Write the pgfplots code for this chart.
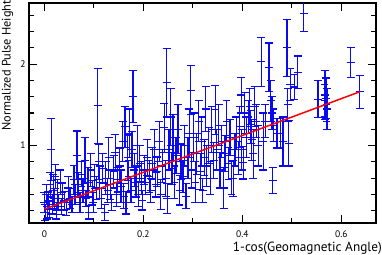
\documentclass[border=0pt]{standalone}
\usepackage{fontspec}
\setmainfont{PT Sans}
\usepackage{pgfplots}
\usepackage{pgfplotstable}
\pgfplotsset{compat=1.18}
\definecolor{barblue}{RGB}{10,10,240}
\pgfplotsset{ebar/.style={color=barblue, line width=1.2pt, unbounded coords=jump, mark=none, forget plot}}
\pgfplotstableread{
x y ey
0.000 0.30 0.12
0.002 0.18 0.10
0.004 0.40 0.12
0.006 0.25 0.15
0.008 0.33 0.10
0.010 0.22 0.10
0.012 0.52 0.15
0.014 0.95 0.38
0.016 0.28 0.12
0.018 0.45 0.20
0.020 0.35 0.12
0.022 0.62 0.15
0.024 0.20 0.10
0.026 0.40 0.18
0.028 0.30 0.10
0.032 0.55 0.15
0.034 0.25 0.10
0.036 0.42 0.12
0.040 0.32 0.12
0.044 0.22 0.08
0.048 0.48 0.14
0.052 0.35 0.12
0.056 0.28 0.10
0.060 0.58 0.18
0.062 0.40 0.12
0.066 0.88 0.30
0.068 0.52 0.15
0.072 0.30 0.12
0.075 0.65 0.15
0.078 0.45 0.15
0.082 0.82 0.28
0.084 0.35 0.10
0.088 0.55 0.18
0.090 0.18 0.08
0.094 0.70 0.20
0.097 0.42 0.15
0.099 0.30 0.12
0.102 0.62 0.15
0.105 0.48 0.14
0.108 1.49 0.46
0.110 0.80 0.22
0.112 0.55 0.20
0.115 0.35 0.12
0.118 0.72 0.18
0.122 0.18 0.10
0.124 0.60 0.20
0.128 0.45 0.15
0.130 0.85 0.25
0.133 0.52 0.18
0.136 0.30 0.10
0.140 0.68 0.20
0.143 0.92 0.22
0.146 0.40 0.15
0.148 0.58 0.15
0.152 0.75 0.22
0.155 0.50 0.20
0.158 1.05 0.25
0.160 0.38 0.15
0.163 1.23 0.25
0.165 0.30 0.14
0.168 0.85 0.28
0.170 0.62 0.20
0.172 1.15 0.30
0.175 0.45 0.15
0.177 0.95 0.22
0.179 1.60 0.32
0.182 0.70 0.20
0.185 0.55 0.18
0.188 1.00 0.25
0.190 0.40 0.15
0.193 0.78 0.22
0.196 0.60 0.20
0.198 0.33 0.12
0.202 0.70 0.18
0.205 0.55 0.15
0.208 0.85 0.22
0.212 0.62 0.20
0.215 0.45 0.15
0.218 0.78 0.20
0.222 0.95 0.25
0.225 0.52 0.15
0.228 0.68 0.18
0.232 1.05 0.25
0.235 0.40 0.18
0.238 0.75 0.20
0.242 1.22 0.30
0.245 0.60 0.22
0.247 1.77 0.42
0.248 0.35 0.18
0.252 0.95 0.25
0.255 1.35 0.35
0.258 0.72 0.20
0.260 1.10 0.28
0.263 0.55 0.20
0.266 0.88 0.22
0.270 1.20 0.30
0.273 0.45 0.18
0.276 0.80 0.22
0.280 0.62 0.20
0.283 1.00 0.25
0.286 0.38 0.15
0.290 0.85 0.25
0.293 1.15 0.30
0.296 1.68 0.30
0.298 0.70 0.22
0.302 1.10 0.30
0.305 0.55 0.25
0.308 0.90 0.25
0.312 1.30 0.25
0.315 0.68 0.22
0.318 1.05 0.30
0.320 0.45 0.15
0.323 0.85 0.22
0.326 1.45 0.28
0.328 0.75 0.25
0.332 1.00 0.22
0.335 0.60 0.20
0.338 1.20 0.28
0.342 0.82 0.22
0.345 1.44 0.30
0.348 0.95 0.25
0.352 1.25 0.25
0.355 0.70 0.22
0.358 1.05 0.20
0.362 0.48 0.25
0.365 0.90 0.22
0.368 1.30 0.25
0.372 0.78 0.20
0.375 1.10 0.22
0.378 0.60 0.20
0.382 0.60 0.22
0.385 0.95 0.20
0.388 1.15 0.20
0.392 0.85 0.20
0.395 1.23 0.25
0.398 1.62 0.22
0.399 0.95 0.25
0.402 0.79 0.20
0.405 1.40 0.25
0.408 1.10 0.25
0.412 1.35 0.20
0.415 1.48 0.22
0.417 1.23 0.20
0.419 1.07 0.25
0.422 0.90 0.30
0.425 1.48 0.25
0.428 1.30 0.20
0.432 1.00 0.25
0.438 2.03 0.30
0.442 1.05 0.35
0.446 1.30 0.20
0.454 1.96 0.30
0.457 1.55 0.25
0.460 1.40 0.20
0.461 0.57 0.16
0.463 1.25 0.20
0.470 1.15 0.18
0.477 1.15 0.18
0.482 1.05 0.30
0.490 2.20 0.35
0.492 1.50 0.20
0.494 1.03 0.28
0.497 1.75 0.20
0.505 1.72 0.15
0.512 1.90 0.20
0.524 2.62 0.22
0.553 1.57 0.23
0.566 1.55 0.20
0.567 1.62 0.30
0.569 1.58 0.25
0.570 1.50 0.20
0.571 1.45 0.25
0.619 2.02 0.18
0.637 1.66 0.20
}\pulsedata
\pgfplotstablegetrowsof{\pulsedata}
\pgfmathtruncatemacro\lastrow{\pgfplotsretval-1}
\begin{document}
\begin{tikzpicture}
\begin{axis}[
  at={(0,0)}, anchor=south west,
  scale only axis, width=347pt, height=220pt,
  xmin=-0.031, xmax=0.67, ymin=0.05, ymax=2.75,
  xtick={0,0.2,0.4,0.6}, xticklabels={0,0.2,0.4,0.6},
  minor x tick num=1,
  ytick={1,2}, yticklabels={1,2},
  minor ytick={0.2,0.4,0.6,0.8,1.2,1.4,1.6,1.8,2.2,2.4,2.6},
  tick align=inside, tick pos=both,
  major tick length=8pt, minor tick length=5pt,
  axis line style={line width=1.5pt},
  every tick/.style={line width=1.2pt, black},
  tick label style={font=\fontsize{9.5}{10}\selectfont},
  xticklabel style={yshift=-4pt},
  /pgf/number format/assume math mode=true,
  xlabel={1-cos(Geomagnetic Angle)},
  ylabel={Normalized Pulse Height},
  xlabel style={font=\fontsize{13.3}{15}\selectfont, at={(axis description cs:1.0173,-0.0864)}, anchor=north east, inner sep=0pt},
  ylabel style={font=\fontsize{12.3}{14}\selectfont, at={(axis description cs:-0.0447,1.0136)}, anchor=south east, inner sep=0pt},
  clip=true,
]
\pgfplotsforeachungrouped \i in {0,...,\lastrow}{%
  \pgfplotstablegetelem{\i}{x}\of\pulsedata \let\px\pgfplotsretval
  \pgfplotstablegetelem{\i}{y}\of\pulsedata \let\py\pgfplotsretval
  \pgfplotstablegetelem{\i}{ey}\of\pulsedata \let\pe\pgfplotsretval
  \pgfmathsetmacro\xl{\px-0.008}%
  \pgfmathsetmacro\xr{\px+0.008}%
  \pgfmathsetmacro\yl{\py-\pe}%
  \pgfmathsetmacro\yh{\py+\pe}%
  \edef\doplot{\noexpand\addplot[ebar] coordinates {(\xl,\yl) (\xr,\yl) (\px,nan) (\px,\yl) (\px,\yh) (\px,nan) (\xl,\yh) (\xr,\yh) (\px,nan) (\xl,\py) (\xr,\py)};}%
  \doplot
}
\addplot[red, line width=1.5pt] coordinates {(0,0.22) (0.637,1.66)};
\end{axis}
\pgfresetboundingbox
\path (-29pt,-31pt) rectangle (353pt,223pt);
\end{tikzpicture}
\end{document}
